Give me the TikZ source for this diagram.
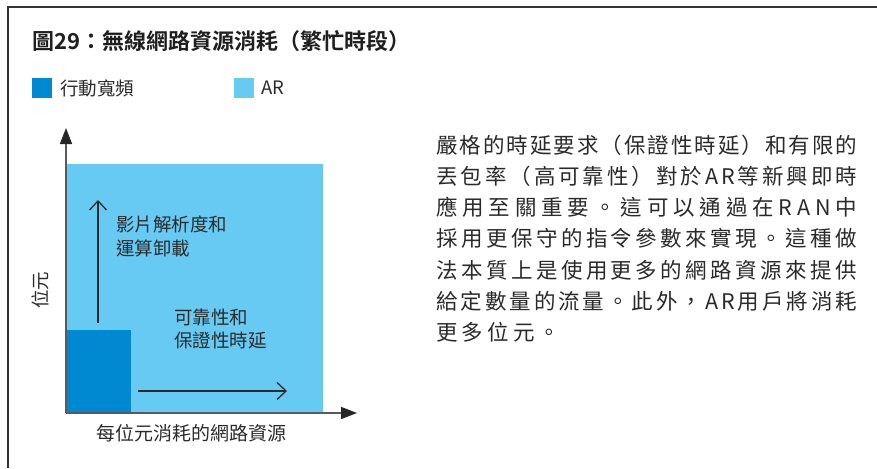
\documentclass[tikz,border=0pt]{standalone}
\usepackage{fontspec}
\setmainfont{Noto Sans CJK TC}
\newfontfamily\cjkb{Noto Sans CJK TC Bold}
\usetikzlibrary{arrows.meta}
\definecolor{darkblue}{HTML}{0089D0}
\definecolor{lightblue}{HTML}{67CAF3}
\definecolor{txt}{HTML}{2A2A2A}
\definecolor{axisgray}{HTML}{5A5A5A}
\definecolor{framegray}{HTML}{333333}
\tikzset{
  lbl/.style={inner sep=0pt, text=txt, anchor=west},
  axisline/.style={draw=axisgray, line width=1.6pt, -{Triangle[length=16pt,width=12pt,color=black!85]}},
  innerarrow/.style={draw=txt, line width=1.3pt, -{Straight Barb[length=9pt,width=17pt,line width=1.3pt]}},
  legendsq/.style={minimum size=20pt, inner sep=0pt, anchor=north west},
}
\begin{document}
\begin{tikzpicture}[x=1pt,y=-1pt]
\useasboundingbox (0,0) rectangle (877,468);
% frame
\draw[framegray, line width=2pt] (7.5,468) -- (7.5,7.5) -- (877,7.5);
% title
\node[lbl, font=\cjkb\fontsize{22}{26}\selectfont, text=black!88] (title) at (32,41) {圖29：無線網路資源消耗（繁忙時段）};
% legend
\node[legendsq, fill=darkblue] (sq1) at (32,78) {};
\node[lbl, font=\fontsize{18.5}{22}\selectfont] (l1) at (60,88) {行動寬頻};
\node[legendsq, fill=lightblue] (sq2) at (234,78) {};
\node[lbl, font=\fontsize{18.5}{22}\selectfont] (l2) at (261,88) {AR};
% chart areas
\fill[lightblue] (66,164) rectangle (323,413);
\fill[darkblue] (66,330) rectangle (131,413);
\coordinate (o) at (66,413);
\coordinate (ytip) at (66,128);
\coordinate (xtip) at (357,413);
\draw[axisline] (o) -- (ytip);
\draw[axisline] (o) -- (xtip);
% inner arrows
\coordinate (ua0) at (98,323);
\coordinate (ua1) at (98,200);
\draw[innerarrow] (ua0) -- (ua1);
\coordinate (ra0) at (138,391);
\coordinate (ra1) at (287,391);
\draw[innerarrow] (ra0) -- (ra1);
% labels
\node[lbl, font=\fontsize{18.5}{24}\selectfont, align=left] (t1) at (116,236) {影片解析度和\\運算卸載};
\node[lbl, font=\fontsize{18.5}{23}\selectfont, align=left] (t2) at (174,329.5) {可靠性和\\保證性時延};
\node[inner sep=0pt, text=txt, font=\fontsize{18.5}{22}\selectfont, rotate=90] (ylab) at (40,290) {位元};
\node[lbl, font=\fontsize{19}{22}\selectfont] (xlab) at (96,433) {每位元消耗的網路資源};
% paragraph
\node[lbl, font=\fontsize{21.5}{31.2}\selectfont, align=left] (para) at (436,238.5) {%
\makebox[421pt][s]{嚴\hfill 格\hfill 的\hfill 時\hfill 延\hfill 要\hfill 求\hfill （\hfill 保\hfill 證\hfill 性\hfill 時\hfill 延\hfill ）\hfill 和\hfill 有\hfill 限\hfill 的}\\
\makebox[421pt][s]{丟\hfill 包\hfill 率\hfill （\hfill 高\hfill 可\hfill 靠\hfill 性\hfill ）\hfill 對\hfill 於\hfill A\hfill R\hfill 等\hfill 新\hfill 興\hfill 即\hfill 時}\\
\makebox[421pt][s]{應\hfill 用\hfill 至\hfill 關\hfill 重\hfill 要\hfill 。\hfill 這\hfill 可\hfill 以\hfill 通\hfill 過\hfill 在\hfill R\hfill A\hfill N\hfill 中}\\
\makebox[421pt][s]{採\hfill 用\hfill 更\hfill 保\hfill 守\hfill 的\hfill 指\hfill 令\hfill 參\hfill 數\hfill 來\hfill 實\hfill 現\hfill 。\hfill 這\hfill 種\hfill 做}\\
\makebox[421pt][s]{法\hfill 本\hfill 質\hfill 上\hfill 是\hfill 使\hfill 用\hfill 更\hfill 多\hfill 的\hfill 網\hfill 路\hfill 資\hfill 源\hfill 來\hfill 提\hfill 供}\\
\makebox[421pt][s]{給\hfill 定\hfill 數\hfill 量\hfill 的\hfill 流\hfill 量\hfill 。\hfill 此\hfill 外\hfill ，\hfill A\hfill R\hfill 用\hfill 戶\hfill 將\hfill 消\hfill 耗}\\
\makebox[124pt][s]{更\hfill 多\hfill 位\hfill 元\hfill 。}};
\end{tikzpicture}
\end{document}
